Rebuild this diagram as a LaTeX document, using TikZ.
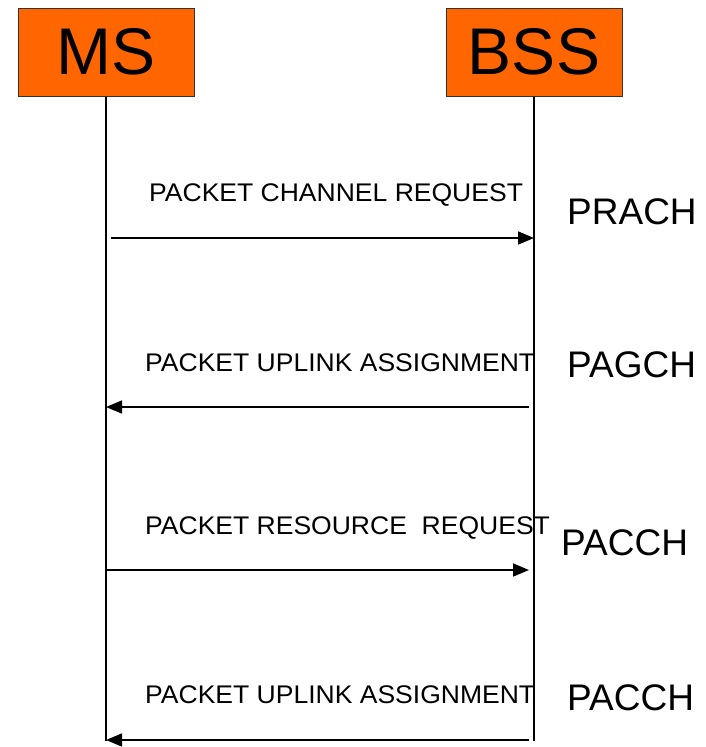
\documentclass[tikz,border=0pt]{standalone}
\usepackage{fontspec}
\setmainfont{Liberation Sans}
\newfontfamily\lblfont[FakeStretch=1.04]{Liberation Sans}
\usetikzlibrary{arrows.meta}
\definecolor{boxorange}{HTML}{FF6600}

\begin{document}
\begin{tikzpicture}[x=1pt, y=-1pt,
ent/.style={draw=black!80, line width=1pt, fill=boxorange, minimum width=176pt, minimum height=88pt, inner sep=0pt, font=\fontsize{66}{70}\selectfont},
msg/.style={line width=1.6pt, -{Triangle[length=16pt, width=13pt]}},
lbl/.style={anchor=base west, inner sep=0pt, font=\lblfont\fontsize{25.5}{28}\selectfont},
chan/.style={anchor=base west, inner sep=0pt, font=\fontsize{37}{40}\selectfont}
]
\useasboundingbox (0,0) rectangle (706,747);

% ---------- ENTITIES ----------
\node[ent] (ms) at (106,52) {MS};
\node[ent] (bss) at (534,52) {BSS};

% lifelines
\coordinate (msend) at (106,741);
\coordinate (bssend) at (534,741);
\draw[line width=1.2pt] (ms.south) -- (msend);
\draw[line width=1.2pt] (bss.south) -- (bssend);

% ---------- MESSAGES ----------
% packet channel request
\coordinate (a1) at (111,238);
\coordinate (b1) at (534,238);
\draw[msg] (a1) -- (b1);
\node[lbl] (m1) at (149,201) {PACKET CHANNEL REQUEST};
\node[chan] (c1) at (567,224) {PRACH};

% packet uplink assignment
\coordinate (b2) at (529,407);
\coordinate (a2) at (106,407);
\draw[msg] (b2) -- (a2);
\node[lbl] (m2) at (145,371) {PACKET UPLINK ASSIGNMENT};
\node[chan] (c2) at (567,377) {PAGCH};

% packet resource request
\coordinate (a3) at (106,570);
\coordinate (b3) at (529,570);
\draw[msg] (a3) -- (b3);
\node[lbl] (m3) at (145,534) {PACKET RESOURCE\ \ REQUEST};
\node[chan] (c3) at (561,555) {PACCH};

% packet uplink assignment
\coordinate (b4) at (529,740);
\coordinate (a4) at (106,740);
\draw[msg] (b4) -- (a4);
\node[lbl] (m4) at (145,703) {PACKET UPLINK ASSIGNMENT};
\node[chan] (c4) at (567,710) {PACCH};

\end{tikzpicture}
\end{document}
